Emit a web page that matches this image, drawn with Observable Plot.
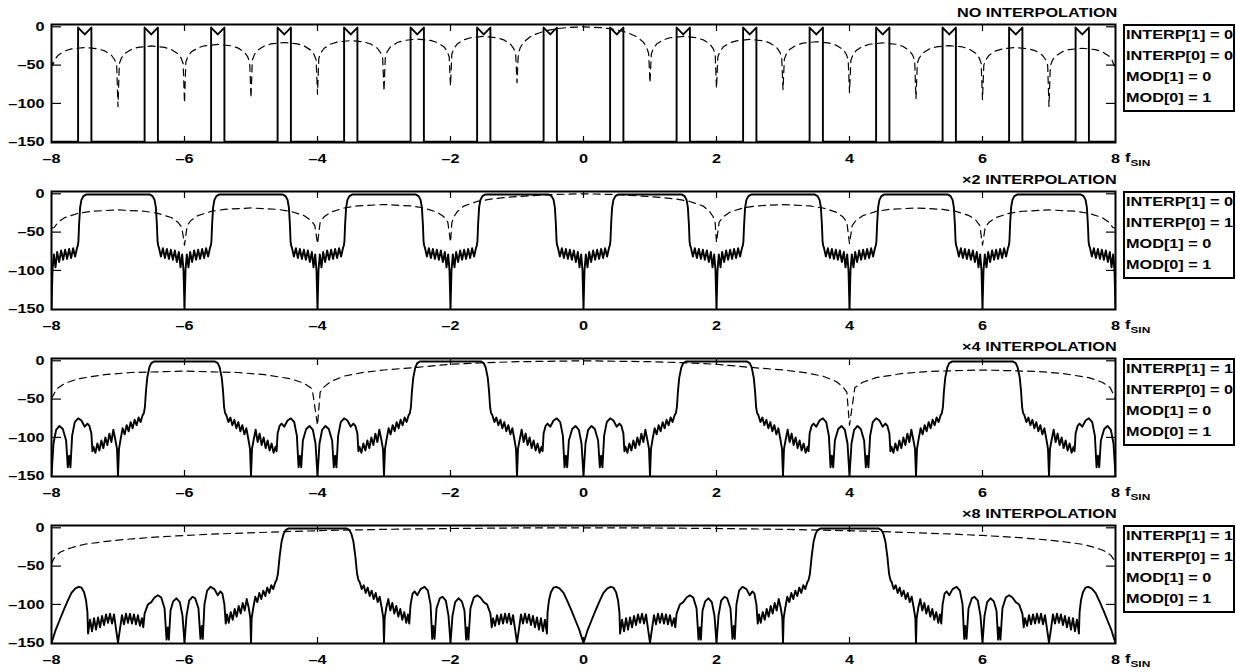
<!DOCTYPE html>
<html>
<head>
<meta charset="utf-8">
<script src="https://cdn.jsdelivr.net/npm/d3@7"></script>
<script src="https://cdn.jsdelivr.net/npm/@observablehq/plot@0.6"></script>
<style>
html,body{margin:0;padding:0;background:#fff;}
#chart{position:relative;width:1236px;height:672px;overflow:hidden;padding-top:1px;box-sizing:border-box;font-family:"Liberation Sans",Arial,Helvetica,sans-serif;font-weight:bold;color:#000;}
.panel{position:relative;width:1236px;height:167px;}
.panel svg{display:block;position:absolute;left:0;top:0;}
.lbl{position:absolute;font-size:13px;line-height:13px;white-space:nowrap;}
.title{transform:scaleX(1.25);transform-origin:100% 50%;}
.str{transform:scaleX(1.25);transform-origin:0 50%;}
.box{position:absolute;left:1123px;top:23px;width:112px;height:88px;border:2px solid #000;box-sizing:border-box;}
.fs sub{font-size:9.5px;line-height:9px;vertical-align:baseline;position:relative;top:4px;}
</style>
</head>
<body>
<div id="chart"></div>
<script>
// ---------- axis ticks & texts ----------
const xTicks = [-8, -6, -4, -2, 0, 2, 4, 6, 8];
const xInnerTicks = [-6, -4, -2, 0, 2, 4, 6];
const yTicks = [0, -50, -100, -150];
const yInnerTicks = [0, -50, -100];
const panelTitles = ["NO INTERPOLATION", "\u00d72 INTERPOLATION", "\u00d74 INTERPOLATION", "\u00d78 INTERPOLATION"];
const legendLines = [
  ["INTERP[1] = 0", "INTERP[0] = 0", "MOD[1] = 0", "MOD[0] = 1"],
  ["INTERP[1] = 0", "INTERP[0] = 1", "MOD[1] = 0", "MOD[0] = 1"],
  ["INTERP[1] = 1", "INTERP[0] = 0", "MOD[1] = 0", "MOD[0] = 1"],
  ["INTERP[1] = 1", "INTERP[0] = 1", "MOD[1] = 0", "MOD[0] = 1"]
];

// ---------- solid response: passband centres and half-period profiles [offset from centre, dB] ----------
const p1Centers = [-7.5, -6.5, -5.5, -4.5, -3.5, -2.5, -1.5, -0.5, 0.5, 1.5, 2.5, 3.5, 4.5, 5.5, 6.5, 7.5];
const p1Profile = [[0, -10], [0.1, -1], [0.1, -150], [0.5, -150]];

const p2Centers = [-7, -5, -3, -1, 1, 3, 5, 7];
const p2Profile = [[0, -1], [0.48, -1], [0.52, -3], [0.55, -8], [0.57, -18], [0.585, -40], [0.595, -62], [0.605, -68],
  [0.615, -70], [0.645, -82], [0.675, -71], [0.705, -84], [0.735, -72], [0.765, -85], [0.795, -73], [0.825, -86],
  [0.855, -74], [0.885, -89], [0.915, -76], [0.94, -96], [0.965, -79], [0.985, -100], [1.0, -150]];

const p3Centers = [-6, -2, 2, 6];
const p3Profile = [[0, -1], [0.46, -1], [0.5, -3], [0.53, -9], [0.56, -22], [0.58, -40], [0.595, -60], [0.61, -68],
  [0.63, -71], [0.66, -80], [0.69, -74], [0.72, -84], [0.75, -77], [0.78, -88], [0.81, -80], [0.84, -92], [0.87, -84], [0.90, -96],
  [0.93, -88], [0.96, -102], [0.985, -115], [1.0, -150], [1.015, -115], [1.04, -103], [1.07, -90], [1.10, -106], [1.13, -95], [1.16, -110],
  [1.19, -100], [1.22, -114], [1.25, -104], [1.28, -117], [1.31, -108], [1.34, -120], [1.37, -112], [1.385, -118], [1.40, -95], [1.43, -85],
  [1.46, -82], [1.50, -86], [1.55, -78], [1.60, -75], [1.65, -80], [1.69, -98], [1.715, -139], [1.735, -124], [1.755, -139], [1.78, -104],
  [1.83, -89], [1.88, -85], [1.93, -90], [1.97, -108], [2.0, -150]];

const p4Centers = [-4, 4];
const p4Profile = [[0, -1], [0.44, -1], [0.48, -3], [0.51, -8], [0.54, -18], [0.57, -38], [0.595, -60], [0.615, -68],
  [0.635, -71], [0.665, -80], [0.695, -75], [0.725, -85], [0.755, -78], [0.785, -89], [0.815, -82], [0.845, -93], [0.875, -85], [0.905, -97],
  [0.935, -90], [0.965, -104], [0.99, -118], [1.0, -150], [1.01, -118], [1.035, -104], [1.065, -93], [1.095, -108], [1.125, -98], [1.155, -112],
  [1.185, -102], [1.215, -116], [1.245, -106], [1.275, -120], [1.305, -110], [1.335, -124], [1.36, -113], [1.38, -125],
  [1.40, -100], [1.43, -86], [1.46, -83], [1.50, -88], [1.55, -80], [1.61, -77], [1.66, -82], [1.70, -100], [1.725, -145], [1.74, -128],
  [1.76, -145], [1.79, -105], [1.84, -92], [1.88, -90], [1.93, -95], [1.97, -115], [2.0, -150], [2.03, -115], [2.07, -97], [2.12, -92],
  [2.17, -96], [2.21, -108], [2.235, -146], [2.25, -130], [2.27, -146], [2.30, -105], [2.35, -91], [2.40, -88], [2.45, -91], [2.50, -97],
  [2.55, -100], [2.60, -112], [2.62, -130],
  [2.64, -118], [2.67, -128], [2.70, -114], [2.73, -126], [2.76, -113], [2.79, -125], [2.82, -112], [2.85, -124], [2.88, -112], [2.91, -126],
  [2.94, -114], [2.97, -132], [3.0, -150], [3.03, -132], [3.06, -113], [3.09, -125], [3.12, -112], [3.15, -124], [3.18, -113], [3.21, -127],
  [3.24, -115], [3.27, -130], [3.30, -117], [3.33, -133], [3.36, -118], [3.39, -135], [3.42, -120], [3.45, -138], [3.46, -110],
  [3.48, -95], [3.51, -84], [3.55, -78], [3.59, -77], [3.64, -79], [3.70, -85], [3.76, -96], [3.82, -108], [3.88, -121], [3.94, -134],
  [3.98, -145], [4.0, -150]];

// ---------- dashed envelope: nulls, side-lobe arches, main lobe ----------
const archShapeT = [0.02, 0.05, 0.1, 0.2, 0.3, 0.5, 0.7, 0.8, 0.9, 0.95, 0.98];
const archShapeDb = [-23, -16, -10, -4.5, -1.8, 0, -1.8, -4.5, -10, -16, -23];

const p1NullX = [-8, -7, -6, -5, -4, -3, -2, -1, 1, 2, 3, 4, 5, 6, 7, 8];
const p1NullDb = [-45, -104, -99, -93, -88, -84, -77, -73, -73, -80, -82, -86, -94, -95, -104, -47];
const p1ArchStart = [-8, -7, -6, -5, -4, -3, -2, 1, 2, 3, 4, 5, 6, 7];
const p1ArchPeak = [-27, -25, -23, -20.5, -18, -16, -12.5, -12.5, -16.5, -19.5, -21, -24.5, -27, -28];
const p1MainX = [-0.98, -0.95, -0.9, -0.8, -0.7, -0.6, -0.5, -0.4, -0.25, 0, 0.25, 0.4, 0.5, 0.6, 0.7, 0.8, 0.9, 0.95, 0.98];
const p1MainDb = [-35, -27, -20, -13, -9, -6, -4, -2.5, -1, 0, -1, -2.5, -4, -6, -9, -13, -20, -27, -35];

const p2NullX = [-8, -6, -4, -2, 2, 4, 6, 8];
const p2NullDb = [-45, -67, -65, -63, -63, -65, -67, -45];
const p2ArchStart = [-8, -6, -4, 2, 4, 6];
const p2ArchPeak = [-21, -18.5, -14, -14, -18.5, -21];
const p2MainX = [-1.98, -1.95, -1.9, -1.8, -1.6, -1.4, -1.2, -1, -0.5, 0, 0.5, 1, 1.2, 1.4, 1.6, 1.8, 1.9, 1.95, 1.98];
const p2MainDb = [-38, -30, -23.5, -16, -10, -7, -5, -3.7, -1, 0, -1, -3.7, -5, -7, -10, -16, -23.5, -30, -38];

const p3NullX = [-8, -4, 4, 8];
const p3NullDb = [-49, -84, -84, -49];
const p3ArchStart = [-8, 4];
const p3ArchPeak = [-13.5, -12];
const p3MainX = [-3.96, -3.9, -3.8, -3.6, -3.3, -3, -2.5, -2, -1.5, -1, 0, 1, 1.5, 2, 2.5, 3, 3.3, 3.6, 3.8, 3.9, 3.96];
const p3MainDb = [-41, -34, -27, -20, -15, -12, -8.5, -4.5, -2.5, -1.2, 0, -1.2, -2.5, -4.5, -8.5, -12, -15, -20, -27, -34, -41];

const p4NullX = [-8, 8];
const p4NullDb = [-47, -47];
const p4MainX = [-7.97, -7.93, -7.87, -7.8, -7.7, -7.6, -7.5, -7.25, -7, -6.5, -6, -5.5, -5, -4.5, -4, -3, -2, -1, 0,
  1, 2, 3, 4, 4.5, 5, 5.5, 6, 6.5, 7, 7.25, 7.5, 7.6, 7.7, 7.8, 7.87, 7.93, 7.97];
const p4MainDb = [-41, -36, -32, -29, -26, -23.5, -21.5, -18.5, -16, -12.5, -10, -8, -6.5, -5, -3.8, -2, -0.9, -0.2, 0,
  -0.2, -0.9, -2, -3.8, -5, -6.5, -8, -10, -12.5, -16, -18.5, -21.5, -23.5, -26, -29, -32, -36, -41];

// ---------- table builders ----------
function buildSolid(centers, profile) {
  const pts = [];
  for (const c of centers) {
    for (let i = profile.length - 1; i >= 0; i--) pts.push({x: c - profile[i][0], y: profile[i][1]});
    for (let i = 1; i < profile.length; i++) pts.push({x: c + profile[i][0], y: profile[i][1]});
  }
  return pts;
}
function buildDash(nullX, nullDb, archStart, archWidth, archPeak, mainX, mainDb) {
  const pts = nullX.map((x, i) => ({x, y: nullDb[i]}));
  archStart.forEach((x0, j) => archShapeT.forEach((t, i) => pts.push({x: x0 + t * archWidth, y: archPeak[j] + archShapeDb[i]})));
  mainX.forEach((x, i) => pts.push({x, y: mainDb[i]}));
  return pts.sort((a, b) => a.x - b.x);
}

const panels = [
  {solid: buildSolid(p1Centers, p1Profile), dash: buildDash(p1NullX, p1NullDb, p1ArchStart, 1, p1ArchPeak, p1MainX, p1MainDb)},
  {solid: buildSolid(p2Centers, p2Profile), dash: buildDash(p2NullX, p2NullDb, p2ArchStart, 2, p2ArchPeak, p2MainX, p2MainDb)},
  {solid: buildSolid(p3Centers, p3Profile), dash: buildDash(p3NullX, p3NullDb, p3ArchStart, 4, p3ArchPeak, p3MainX, p3MainDb)},
  {solid: buildSolid(p4Centers, p4Profile), dash: buildDash(p4NullX, p4NullDb, [], 0, [], p4MainX, p4MainDb)}
];

const fmt = d => d < 0 ? "\u2013" + Math.abs(d) : String(d);
const blank = () => "";
const FONT = '"Liberation Sans", Arial, Helvetica, sans-serif';

function makePlot(solid, dash) {
  const font = {fontFamily: FONT, fontSize: 13, fontWeight: "bold"};
  return Plot.plot({
    width: 1236, height: 167,
    marginLeft: 51, marginRight: 121, marginTop: 23, marginBottom: 26,
    x: {domain: [-8, 8], label: null},
    y: {domain: [-151, 3], label: null},
    style: {fontFamily: FONT, fontSize: "13px", fontWeight: "bold", color: "black", background: "transparent", overflow: "visible"},
    marks: [
      Plot.line(dash, {x: "x", y: "y", stroke: "black", strokeWidth: 1.2, strokeDasharray: "7,5", clip: true}),
      Plot.line(solid, {x: "x", y: "y", stroke: "black", strokeWidth: 1.9, clip: true}),
      Plot.axisX({ticks: xTicks, anchor: "bottom", tickSize: 0, tickPadding: 11, tickFormat: fmt, label: null, ...font}),
      Plot.axisX({ticks: xInnerTicks, anchor: "bottom", tickSize: 6, dy: -6, tickFormat: blank, label: null, strokeWidth: 1.2}),
      Plot.axisX({ticks: xInnerTicks, anchor: "top", tickSize: 6, dy: 6, tickFormat: blank, label: null, strokeWidth: 1.2}),
      Plot.axisY({ticks: yTicks, anchor: "left", tickSize: 0, tickPadding: 7, tickFormat: fmt, label: null, ...font}),
      Plot.axisY({ticks: yInnerTicks, anchor: "left", tickSize: 10, dx: 10, tickFormat: blank, label: null, strokeWidth: 1.2}),
      Plot.axisY({ticks: yInnerTicks, anchor: "right", tickSize: 10, dx: -10, tickFormat: blank, label: null, strokeWidth: 1.2}),
      Plot.frame({stroke: "black", strokeWidth: 2})
    ]
  });
}

function stretch(svg) {
  svg.querySelectorAll("text").forEach(t => {
    const L = t.getComputedTextLength();
    if (L > 0) {
      t.setAttribute("textLength", (L * 1.25).toFixed(2));
      t.setAttribute("lengthAdjust", "spacingAndGlyphs");
    }
  });
}

function addDiv(parent, cls, html, css) {
  const d = document.createElement("div");
  d.className = cls;
  d.innerHTML = html;
  Object.assign(d.style, css);
  parent.appendChild(d);
  return d;
}

const chart = document.getElementById("chart");
panels.forEach((p, k) => {
  const div = document.createElement("div");
  div.className = "panel";
  chart.appendChild(div);
  const svg = makePlot(p.solid, p.dash);
  div.appendChild(svg);
  stretch(svg);
  addDiv(div, "lbl title", panelTitles[k], {right: "119px", top: "5px"});
  addDiv(div, "box", "", {});
  const tops = [27, 48, 69, 90];
  legendLines[k].forEach((s, i) => addDiv(div, "lbl str", s, {left: "1126px", top: tops[i] + "px"}));
  addDiv(div, "lbl str fs", "f<sub>SIN</sub>", {left: "1125px", top: "150px"});
});
</script>
</body>
</html>
